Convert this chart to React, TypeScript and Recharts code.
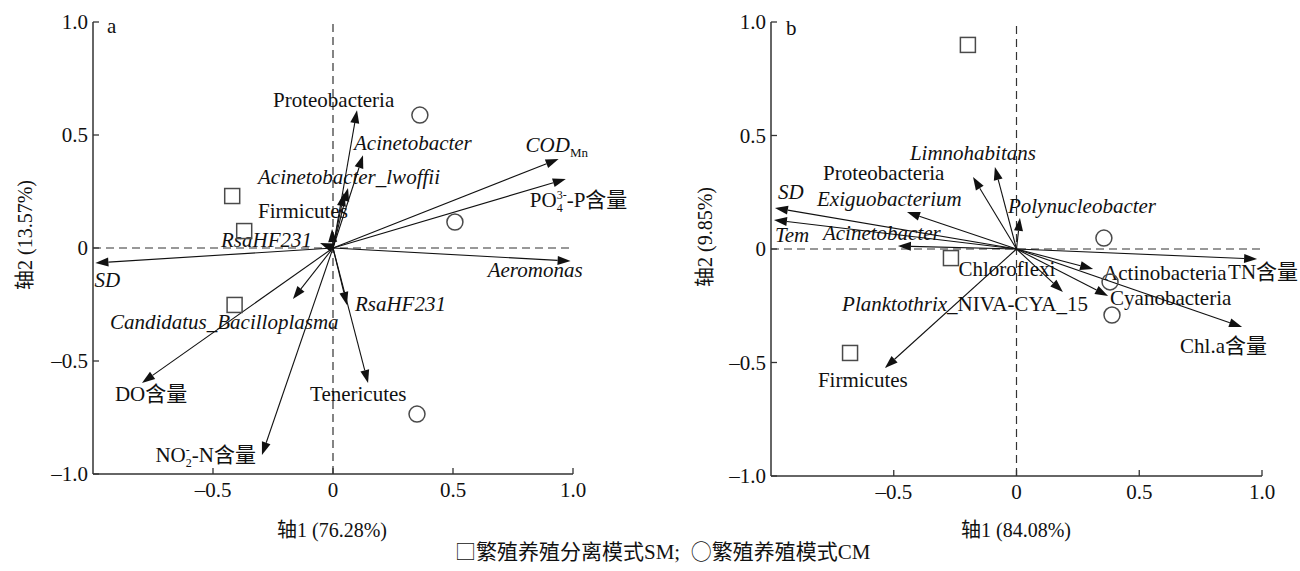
import React from 'react';
import { ScatterChart, Scatter, XAxis, YAxis, ReferenceLine } from 'recharts';

const FONT = '"Liberation Serif", "Times New Roman", "Noto Sans CJK SC", serif';
const CJK = '"Noto Sans CJK SC", "Noto Sans CJK JP", sans-serif';
const INK = '#111111';
const AXIS = '#333333';
const MARK = '#4a4a4a';

// ---------- shared ticks
const X_TICKS = [-0.5, 0, 0.5, 1.0];
const Y_TICKS = [-1.0, -0.5, 0, 0.5, 1.0];

// ---------- panel a data
const samplesSMa = [
  { x: -0.42, y: 0.23 },
  { x: -0.37, y: 0.075 },
  { x: -0.41, y: -0.252 },
];
const samplesCMa = [
  { x: 0.362, y: 0.588 },
  { x: 0.508, y: 0.115 },
  { x: 0.35, y: -0.735 },
];
const vectorIdsA = [
  'SD', 'Aeromonas', 'COD_Mn', 'PO4-P', 'Proteobacteria', 'Acinetobacter',
  'Acinetobacter_lwoffii', '', 'Firmicutes', 'RsaHF231', 'Candidatus_Bacilloplasma',
  'DO', 'NO2-N', 'RsaHF231', 'Tenericutes',
];
const vectorXA = [-0.99, 0.99, 0.94, 0.97, 0.1, 0.125, 0.0625, 0.046, -0.004, -0.054, -0.167, -0.796, -0.296, 0.058, 0.146];
const vectorYA = [-0.066, -0.058, 0.394, 0.305, 0.61, 0.41, 0.265, 0.243, 0.084, 0.022, -0.226, -0.597, -0.916, -0.252, -0.597];
// label placement (pixels relative to arrow tip)
const labelLayoutA = [
  { dx: -1, dy: 24, anchor: 'start' },
  { dx: 12, dy: 16, anchor: 'end' },
  { dx: -33, dy: -7, anchor: 'start' },
  { dx: -36, dy: 28, anchor: 'start' },
  { dx: -84, dy: -3, anchor: 'start' },
  { dx: -9, dy: -5, anchor: 'start' },
  { dx: -90, dy: -4, anchor: 'start' },
  { dx: 0, dy: 0, anchor: 'start' },
  { dx: -74, dy: -11, anchor: 'start' },
  { dx: -8, dy: 4, anchor: 'end' },
  { dx: -183, dy: 30, anchor: 'start' },
  { dx: -27, dy: 18, anchor: 'start' },
  { dx: -6, dy: 7, anchor: 'end' },
  { dx: 8, dy: 6, anchor: 'start' },
  { dx: -58, dy: 18, anchor: 'start' },
];

// ---------- panel b data
const samplesSMb = [
  { x: -0.198, y: 0.899 },
  { x: -0.267, y: -0.04 },
  { x: -0.678, y: -0.458 },
];
const samplesCMb = [
  { x: 0.356, y: 0.048 },
  { x: 0.381, y: -0.145 },
  { x: 0.389, y: -0.291 },
];
const vectorIdsB = [
  'SD', 'Tem', 'Exiguobacterium', 'Acinetobacter', 'Proteobacteria', 'Limnohabitans',
  'Polynucleobacter', 'TN', 'Actinobacteria', 'Cyanobacteria', 'Chl.a', 'Planktothrix',
  'Chloroflexi', 'Firmicutes',
];
const vectorXB = [-0.984, -0.988, -0.446, -0.483, -0.177, -0.088, 0.014, 0.98, 0.312, 0.373, 0.919, 0.189, 0, -0.536];
const vectorYB = [0.181, 0.128, 0.163, 0.013, 0.317, 0.361, 0.137, -0.044, -0.088, -0.207, -0.344, -0.189, 0, -0.524];
const labelLayoutB = [
  { dx: 3, dy: -9, anchor: 'start' },
  { dx: 1, dy: 22, anchor: 'start' },
  { dx: -90, dy: -6, anchor: 'start' },
  { dx: -75, dy: -6, anchor: 'start' },
  { dx: -150, dy: 3, anchor: 'start' },
  { dx: -85, dy: -7, anchor: 'start' },
  { dx: -12, dy: -5, anchor: 'start' },
  { dx: -29, dy: 20, anchor: 'start' },
  { dx: 10, dy: 11, anchor: 'start' },
  { dx: 2, dy: 9, anchor: 'start' },
  { dx: -62, dy: 26, anchor: 'start' },
  { dx: 25, dy: 19, anchor: 'end' },
  { dx: -58, dy: 27, anchor: 'start' },
  { dx: -67, dy: 19, anchor: 'start' },
];

const ITALIC = new Set([
  'SD', 'Tem', 'Aeromonas', 'Acinetobacter', 'Acinetobacter_lwoffii', 'RsaHF231',
  'Candidatus_Bacilloplasma', 'Exiguobacterium', 'Limnohabitans', 'Polynucleobacter',
]);

function labelContent(id: string) {
  switch (id) {
    case 'COD_Mn':
      return [
        <tspan key="a" fontStyle="italic">COD</tspan>,
        <tspan key="b" fontSize={13} dy={5}>Mn</tspan>,
      ];
    case 'PO4-P':
      return [
        <tspan key="a">PO</tspan>,
        <tspan key="b" fontSize={12} dy={5}>4</tspan>,
        <tspan key="c" fontSize={12} dx={-6} dy={-13}>3-</tspan>,
        <tspan key="d" dy={8}>-P含量</tspan>,
      ];
    case 'NO2-N':
      return [
        <tspan key="a">NO</tspan>,
        <tspan key="b" fontSize={12} dy={5}>2</tspan>,
        <tspan key="c" fontSize={12} dx={-6} dy={-13}>-</tspan>,
        <tspan key="d" dx={2} dy={8}>-N含量</tspan>,
      ];
    case 'DO':
      return 'DO含量';
    case 'TN':
      return 'TN含量';
    case 'Chl.a':
      return 'Chl.a含量';
    case 'Planktothrix':
      return [
        <tspan key="a" fontStyle="italic">Planktothrix</tspan>,
        <tspan key="b">_NIVA-CYA_15</tspan>,
      ];
    default:
      return id;
  }
}

const makeArrow = (id: string, lay: { dx: number; dy: number; anchor: string }) => (p: any) => {
  const { x1, y1, x2, y2 } = p;
  const ddx = x2 - x1;
  const ddy = y2 - y1;
  const len = Math.hypot(ddx, ddy);
  let line = null;
  let head = null;
  if (len > 4) {
    const ux = ddx / len;
    const uy = ddy / len;
    const L = 13;
    const W = 4.5;
    const bx = x2 - ux * L;
    const by = y2 - uy * L;
    line = <line x1={x1} y1={y1} x2={bx} y2={by} stroke={INK} strokeWidth={1.1} />;
    head = (
      <polygon
        points={`${x2},${y2} ${bx - uy * W},${by + ux * W} ${bx + uy * W},${by - ux * W}`}
        fill={INK}
      />
    );
  }
  return (
    <g>
      {line}
      {head}
      {id ? (
        <text
          x={x2 + lay.dx}
          y={y2 + lay.dy}
          textAnchor={lay.anchor as any}
          fontSize={21}
          fontFamily={FONT}
          fontStyle={ITALIC.has(id) ? 'italic' : 'normal'}
          fill={INK}
        >
          {labelContent(id)}
        </text>
      ) : null}
    </g>
  );
};

const fmt = (v: number) => (v === 0 ? '0' : v < 0 ? '–' + Math.abs(v).toFixed(1) : v.toFixed(1));

const XTick = (p: any) => {
  const { x, y, payload } = p;
  return (
    <g>
      <line x1={x} y1={y} x2={x} y2={y - 6} stroke={AXIS} strokeWidth={1.3} />
      <text x={x} y={y + 23} textAnchor="middle" fontSize={21} fontFamily={FONT} fill={INK}>
        {fmt(payload.value)}
      </text>
    </g>
  );
};

const YTick = (p: any) => {
  const { x, y, payload } = p;
  return (
    <g>
      <line x1={x} y1={y} x2={x + 6} y2={y} stroke={AXIS} strokeWidth={1.3} />
      <text x={x - 5} y={y + 7} textAnchor="end" fontSize={21} fontFamily={FONT} fill={INK}>
        {fmt(payload.value)}
      </text>
    </g>
  );
};

const SquareShape = (p: any) => (
  <rect x={p.cx - 7.5} y={p.cy - 7.5} width={15} height={15} fill="none" stroke={MARK} strokeWidth={1.5} />
);
const CircleShape = (p: any) => (
  <circle cx={p.cx} cy={p.cy} r={8} fill="none" stroke={MARK} strokeWidth={1.5} />
);

function Panel(props: any) {
  const { sm, cm, ids, xs, ys, layout, yAxisWidth, xAxisHeight, marginRight } = props;
  return (
    <ScatterChart width={650} height={571} margin={{ top: 22, right: marginRight, bottom: 0, left: 0 }}>
      <XAxis
        type="number"
        dataKey="x"
        domain={[-1, 1]}
        ticks={X_TICKS}
        interval={0}
        allowDataOverflow
        tickLine={false}
        tickSize={0}
        tickMargin={0}
        height={xAxisHeight}
        axisLine={{ stroke: AXIS, strokeWidth: 1.5 }}
        tick={(t: any) => <XTick {...t} />}
      />
      <YAxis
        type="number"
        dataKey="y"
        domain={[-1, 1]}
        ticks={Y_TICKS}
        interval={0}
        allowDataOverflow
        tickLine={false}
        tickSize={0}
        tickMargin={0}
        width={yAxisWidth}
        axisLine={{ stroke: AXIS, strokeWidth: 1.5 }}
        tick={(t: any) => <YTick {...t} />}
      />
      <ReferenceLine y={0} stroke={AXIS} strokeWidth={1.2} strokeDasharray="8 5" />
      <ReferenceLine x={0} stroke={AXIS} strokeWidth={1.2} strokeDasharray="8 5" />
      {ids.map((id: string, i: number) => (
        <ReferenceLine
          key={i}
          segment={[{ x: 0, y: 0 }, { x: xs[i], y: ys[i] }]}
          ifOverflow="visible"
          shape={makeArrow(id, layout[i])}
        />
      ))}
      <Scatter data={sm} shape={SquareShape} isAnimationActive={false} />
      <Scatter data={cm} shape={CircleShape} isAnimationActive={false} />
    </ScatterChart>
  );
}

export default function App() {
  return (
    <div style={{ position: 'absolute', left: 0, top: 0, width: 1300, height: 571, background: '#fff', fontFamily: FONT }}>
      <div style={{ position: 'absolute', left: 0, top: 0 }}>
        <Panel
          sm={samplesSMa}
          cm={samplesCMa}
          ids={vectorIdsA}
          xs={vectorXA}
          ys={vectorYA}
          layout={labelLayoutA}
          yAxisWidth={93}
          xAxisHeight={97}
          marginRight={77}
        />
      </div>
      <div style={{ position: 'absolute', left: 650, top: 0 }}>
        <Panel
          sm={samplesSMb}
          cm={samplesCMb}
          ids={vectorIdsB}
          xs={vectorXB}
          ys={vectorYB}
          layout={labelLayoutB}
          yAxisWidth={121}
          xAxisHeight={95}
          marginRight={38}
        />
      </div>
      <svg width={1300} height={571} style={{ position: 'absolute', left: 0, top: 0, pointerEvents: 'none' }}>
        <g fontFamily={FONT} fill={INK} fontSize={20}>
          <text x={107} y={33} fontSize={21}>a</text>
          <text x={786} y={35} fontSize={21}>b</text>
          <text x={332} y={537} textAnchor="middle">轴1 (76.28%)</text>
          <text x={1016} y={537} textAnchor="middle">轴1 (84.08%)</text>
          <text transform="translate(32,235) rotate(-90)" textAnchor="middle">轴2 (13.57%)</text>
          <text transform="translate(712,237) rotate(-90)" textAnchor="middle">轴2 (9.85%)</text>
          <text x={455} y={559} fontSize={21} style={{ whiteSpace: 'pre' }}>
            <tspan fontFamily={CJK} fontWeight={300}>□</tspan>
            <tspan>繁殖养殖分离模式SM;  </tspan>
            <tspan fontFamily={CJK} fontWeight={300}>○</tspan>
            <tspan>繁殖养殖模式CM</tspan>
          </text>
        </g>
      </svg>
    </div>
  );
}
